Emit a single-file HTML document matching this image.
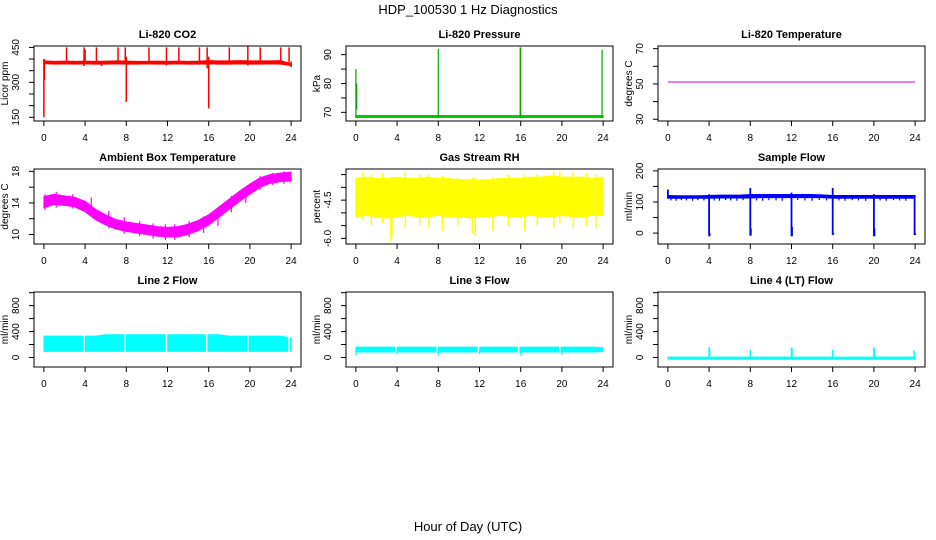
<!DOCTYPE html>
<html><head><meta charset="utf-8"><style>
html,body{margin:0;padding:0;background:#fff;}
svg{display:block;font-family:"Liberation Sans",Arial,sans-serif;}
</style></head><body>
<svg id="chart" width="936" height="540" viewBox="0 0 936 540">
<text x="468" y="14" text-anchor="middle" font-size="13">HDP_100530  1 Hz Diagnostics</text>
<text x="468" y="531" text-anchor="middle" font-size="13">Hour of Day (UTC)</text>
</svg>
<script>
const hours = [0,1,2,3,4,5,6,7,8,9,10,11,12,13,14,15,16,17,18,19,20,21,22,23,24];
const xTicks = [0,4,8,12,16,20,24];

// CO2
const co2Lo = [380,378,379,378,379,378,378,379,378,378,379,378,378,379,378,378,379,378,378,379,378,378,379,378,372];
const co2Hi = [392,390,391,390,391,390,391,392,391,390,390,391,390,391,390,391,393,392,392,393,392,392,392,393,380];
const co2SpikeT = [0.0,0.05,2.2,3.9,4.0,5.1,5.6,7.2,7.9,8.0,10.2,11.9,13.1,15.1,15.85,16.0,18.0,19.8,21.0,23.0,23.8,24.0];
const co2SpikeLo = [150,310,385,370,380,385,370,385,385,216,385,372,385,385,360,188,385,372,385,385,385,365];
const co2SpikeHi = [400,400,450,450,440,450,390,450,450,410,450,450,450,450,450,410,450,455,450,450,450,390];
// Pressure
const presLo = hours.map(()=>68.2);
const presHi = hours.map(()=>68.9);
const presSpikeT = [0.0,0.08,8.0,15.95,16.0,23.9];
const presSpikeLo = [68,71,68,68,68,68];
const presSpikeHi = [85,80,92,92.5,92.5,91.7];
// Li-820 temperature
const tempVals = [51.1,51.1,51.1,51.1,51.1,51.1,51.1,51.1,51.1,51.1,51.1,51.1,51.1,51.1,51.1,51.1,51.1,51.1,51.1,51.1,51.1,51.1,51.1,51.1,51.1];
// Ambient box temperature
const ambLo = [13.4,13.8,13.7,13.5,12.9,11.9,11.2,10.7,10.4,10.2,10.0,9.8,9.7,9.7,10.0,10.5,11.2,12.2,13.2,14.2,15.1,16.0,16.5,16.7,16.8];
const ambHi = [14.8,15.1,14.9,14.7,14.2,13.2,12.5,11.9,11.6,11.4,11.2,11.0,10.9,11.0,11.3,11.8,12.5,13.5,14.5,15.5,16.4,17.2,17.6,17.8,17.9];
const ambSpikeT = [0.1,1.2,2.8,4.6,6.3,7.8,9.3,10.6,11.8,12.7,14.1,15.5,16.9,18.2,19.6,21.0,22.2,23.3,23.9];
const ambSpikeLo = [13.1,13.4,13.3,12.3,10.8,10.1,9.8,9.5,9.3,9.3,9.7,10.2,11.1,12.8,14.0,15.7,16.3,16.4,16.6];
const ambSpikeHi = [15.1,15.4,15.1,14.7,13.0,12.2,11.7,11.4,11.3,11.3,11.7,12.3,13.2,14.9,16.0,17.4,17.8,18.0,18.0];
// Gas stream RH
const rhLo = [-5.15,-5.1,-5.15,-5.2,-5.15,-5.1,-5.15,-5.15,-5.1,-5.15,-5.15,-5.2,-5.15,-5.15,-5.1,-5.15,-5.15,-5.1,-5.15,-5.15,-5.1,-5.15,-5.15,-5.1,-5.1];
const rhHi = [-3.65,-3.6,-3.65,-3.65,-3.6,-3.65,-3.65,-3.6,-3.65,-3.65,-3.7,-3.7,-3.7,-3.7,-3.65,-3.65,-3.65,-3.6,-3.6,-3.55,-3.6,-3.6,-3.6,-3.65,-3.6];
const rhSpikeT = [0.7,1.5,2.6,3.4,3.5,4.8,6.2,7.1,8.4,9.9,11.3,11.6,13.3,14.8,16.4,17.6,19.2,19.8,21.1,22.4,23.3];
const rhSpikeLo = [-5.3,-5.5,-5.4,-6.1,-5.9,-5.6,-5.5,-5.6,-5.7,-5.5,-5.8,-5.9,-5.7,-5.5,-5.7,-5.5,-5.6,-5.4,-5.6,-5.5,-5.6];
const rhSpikeHi = [-3.4,-3.5,-3.45,-3.6,-3.6,-3.4,-3.5,-3.5,-3.55,-3.6,-3.6,-3.6,-3.6,-3.5,-3.5,-3.5,-3.4,-3.4,-3.4,-3.45,-3.5];
// Sample flow
const flowLo = [112,112,112,112,112,113,113,113,113,114,114,114,114,114,114,114,112,112,112,112,112,112,112,112,112];
const flowHi = [121,120,120,120,121,122,122,122,124,124,124,124,124,124,124,123,121,121,121,121,121,121,121,121,121];
const flowSpikeT = [0.0,4.0,4.05,8.0,8.05,12.0,12.05,16.0,16.05,20.0,20.05,23.95,24.0];
const flowSpikeLo = [112,-10,-10,-8,-8,-10,-10,-6,-6,-10,-10,-6,-6];
const flowSpikeHi = [140,125,0,145,15,130,20,145,0,125,15,110,0];
const flowDipT = [0.3,0.8,1.3,1.8,2.4,2.9,3.5,4.5,5.0,5.6,6.1,6.7,7.3,8.6,9.2,9.8,10.5,11.1,12.6,13.3,14.0,14.7,15.4,16.6,17.2,17.9,18.5,19.2,20.6,21.2,21.9,22.5,23.1];
const flowDipLo = [105,104,106,105,104,106,105,105,104,106,105,104,106,105,104,106,105,104,106,105,104,106,105,105,104,106,105,104,105,104,106,105,104];
// Line 2 flow
const l2Lo = [95,95,95,95,95,95,95,95,95,95,95,95,95,95,95,95,95,95,95,95,95,95,95,95,95];
const l2Hi = [330,330,330,330,330,330,350,350,350,350,350,350,350,350,350,350,350,350,330,330,330,330,330,330,300];
const l2GapT = [3.9,7.9,11.9,15.8,19.8,23.8];
// Line 3 flow
const l3Lo = [85,85,85,85,85,85,85,85,85,85,85,85,85,85,85,85,85,85,85,85,85,85,85,85,90];
const l3Hi = [160,160,160,160,160,160,160,160,160,160,160,160,160,160,160,160,160,160,160,160,160,160,160,160,150];
const l3GapT = [3.9,7.9,11.9,15.8,19.8];
const l3SpikeT = [0.0,4.0,8.0,12.0,16.0,20.0];
const l3SpikeLo = [30,50,30,50,30,40];
const l3SpikeHi = [100,100,100,100,100,100];
// Line 4 flow
const l4Lo = [-25,-25,-25,-25,-25,-25,-25,-25,-25,-25,-25,-25,-25,-25,-25,-25,-25,-25,-25,-25,-25,-25,-25,-25,-25];
const l4Hi = [5,5,5,5,5,5,5,5,5,5,5,5,5,5,5,5,5,5,5,5,5,5,5,5,5];
const l4SpikeT = [4.0,4.05,8.0,12.0,12.05,16.0,20.0,20.05,23.9];
const l4SpikeHi = [160,130,120,155,140,120,160,130,110];

const svg = document.getElementById('chart');
const NS = 'http://www.w3.org/2000/svg';
function mk(tag, attrs, parent){const e=document.createElementNS(NS,tag);for(const k in attrs)e.setAttribute(k,attrs[k]);(parent||svg).appendChild(e);return e;}

const colX=[34,346,658], rowY=[46,169,292], W=267, H=75;
const xMin=-0.96, xMax=24.96;

function panel(col,row,title,ylab,yMin,yMax,yTicks,yLabels,name){
  const g=mk('g',{});
  
  
  const L=colX[col],T=rowY[row];
  const sx=v=>L+(v-xMin)/(xMax-xMin)*W;
  const sy=v=>T+H-(v-yMin)/(yMax-yMin)*H;
  const clip=mk('clipPath',{id:'c'+name},g);
  mk('rect',{x:L,y:T,width:W,height:H},clip);
  const plot=mk('g',{'clip-path':'url(#c'+name+')'},g);
  const t=mk('text',{x:L+W/2,y:T-8,'text-anchor':'middle','font-size':'11','font-weight':'bold'},g);
  t.textContent=title;
  
  
  const box=mk('rect',{x:L,y:T,width:W,height:H,fill:'none',stroke:'#000','stroke-width':1},g);
  
  
  xTicks.forEach(v=>{
    const x=sx(v);
    mk('line',{x1:x,x2:x,y1:T+H,y2:T+H+5,stroke:'#000'},g);
    const tl=mk('text',{x:x,y:T+H+20,'text-anchor':'middle','font-size':'10'},g);
    tl.textContent=v;
    
    
  });
  yTicks.forEach(v=>{
    const y=sy(v);
    mk('line',{x1:L-5,x2:L,y1:y,y2:y,stroke:'#000'},g);
  });
  yLabels.forEach(v=>{
    const y=sy(v);
    const yl=mk('text',{x:0,y:0,'text-anchor':'middle','font-size':'10',transform:`translate(${L-15},${y}) rotate(-90)`},g);
    yl.textContent=(typeof v==='number'&&v<0)?v.toFixed(1):v;
    
    
  });
  const at=mk('text',{x:0,y:0,'text-anchor':'middle','font-size':'10',transform:`translate(${L-26},${T+H/2}) rotate(-90)`},g);
  at.textContent=ylab;
  
  
  return {plot,sx,sy};
}
function band(p,lo,hi,color,name){
  let pts=hours.map((h,i)=>p.sx(h)+','+p.sy(hi[i]));
  for(let i=hours.length-1;i>=0;i--)pts.push(p.sx(hours[i])+','+p.sy(lo[i]));
  const e=mk('polygon',{points:pts.join(' '),fill:color,stroke:color,'stroke-width':1},p.plot);
  
  
}
function spikes(p,ts,lo,hi,color,w,name){
  ts.forEach((t,i)=>{
    const e=mk('line',{x1:p.sx(t),x2:p.sx(t),y1:p.sy(lo[i]),y2:p.sy(hi[i]),stroke:color,'stroke-width':w},p.plot);
    
    
  });
}
function gaps(p,ts,lo,hi,name){
  ts.forEach(t=>{
    const e=mk('line',{x1:p.sx(t),x2:p.sx(t),y1:p.sy(lo),y2:p.sy(hi),stroke:'#fff','stroke-width':1.5},p.plot);
    
    
  });
}

// Row 1
let p=panel(0,0,'Li-820 CO2','Licor ppm',134,456,[150,200,250,300,350,400,450],[150,300,450],'co2');
band(p,co2Lo,co2Hi,'#ff0000','co2-series');
spikes(p,co2SpikeT,co2SpikeLo,co2SpikeHi,'#ff0000',1.5,'co2-spike');

p=panel(1,0,'Li-820 Pressure','kPa',67,93,[70,75,80,85,90],[70,80,90],'pressure');
band(p,presLo,presHi,'#00cc00','pressure-series');
spikes(p,presSpikeT,presSpikeLo,presSpikeHi,'#00aa00',1.2,'pressure-spike');

p=panel(2,0,'Li-820 Temperature','degrees C',29,71.5,[30,40,50,60,70],[30,50,70],'li820-temp');
{const pts=hours.map((h,i)=>p.sx(h)+','+p.sy(tempVals[i])).join(' ');
 const e=mk('polyline',{points:pts,fill:'none',stroke:'#cc00cc','stroke-width':1},p.plot);
 
 }

// Row 2
p=panel(0,1,'Ambient Box Temperature','degrees C',8.8,18.3,[10,12,14,16,18],[10,14,18],'ambient');
band(p,ambLo,ambHi,'#ff00ff','ambient-series');
spikes(p,ambSpikeT,ambSpikeLo,ambSpikeHi,'#ff00ff',1.2,'ambient-spike');

p=panel(1,1,'Gas Stream RH','percent',-6.22,-3.28,[-6,-5.5,-5,-4.5,-4,-3.5],[-6.0,-4.5],'rh');
band(p,rhLo,rhHi,'#ffff00','rh-series');
spikes(p,rhSpikeT,rhSpikeLo,rhSpikeHi,'#ffff00',1.5,'rh-spike');

p=panel(2,1,'Sample Flow','ml/min',-35,206,[0,50,100,150,200],[0,100,200],'sample-flow');
band(p,flowLo,flowHi,'#0000ff','sample-flow-series');
spikes(p,flowDipT,flowDipLo,flowDipLo.map(()=>115),'#0000ff',1.2,'sample-flow-dip');
spikes(p,flowSpikeT,flowSpikeLo,flowSpikeHi,'#0000ff',1.8,'sample-flow-spike');

// Row 3
p=panel(0,2,'Line 2 Flow','ml/min',-147,1010,[0,200,400,600,800,1000],[0,400,800],'line2');
band(p,l2Lo,l2Hi,'#00ffff','line2-series');
gaps(p,l2GapT,80,360,'line2-gap');

p=panel(1,2,'Line 3 Flow','ml/min',-147,1010,[0,200,400,600,800,1000],[0,400,800],'line3');
band(p,l3Lo,l3Hi,'#00ffff','line3-series');
gaps(p,l3GapT,80,170,'line3-gap');
spikes(p,l3SpikeT,l3SpikeLo,l3SpikeHi,'#00ffff',1.2,'line3-spike');

p=panel(2,2,'Line 4 (LT) Flow','ml/min',-147,1010,[0,200,400,600,800,1000],[0,400,800],'line4');
band(p,l4Lo,l4Hi,'#00ffff','line4-series');
spikes(p,l4SpikeT,l4SpikeT.map(()=>0),l4SpikeHi,'#00ffff',1.5,'line4-spike');
</script>
</body></html>
